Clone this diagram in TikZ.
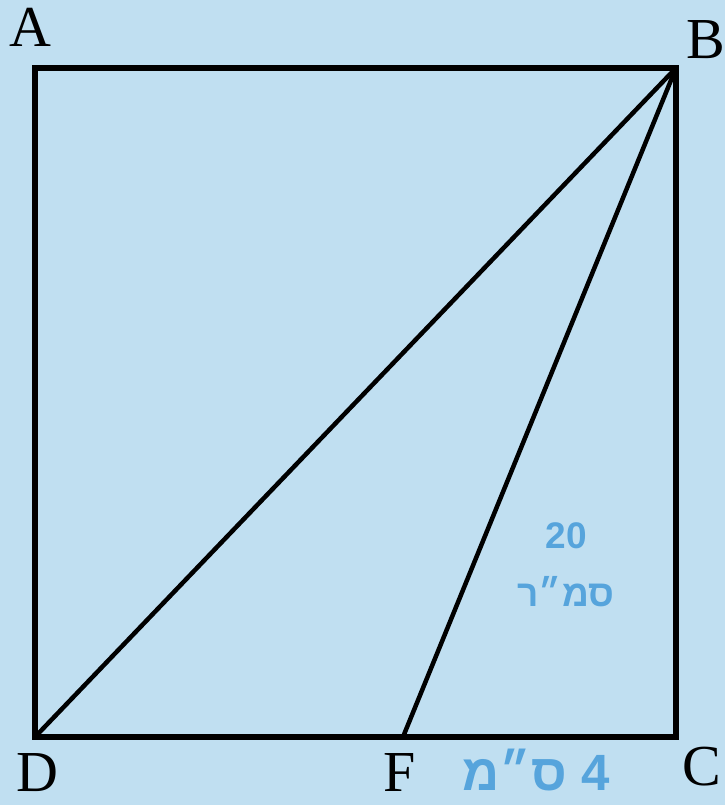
\documentclass[tikz,border=0pt]{standalone}
\usepackage{fontspec}
\setmainfont{Liberation Serif}
\newfontfamily\hebfont[Script=Hebrew]{Liberation Sans}
\TeXXeTstate=1
\usepackage{xcolor}
\usepackage{tikz}
\usetikzlibrary{positioning}
\definecolor{bgblue}{RGB}{192,223,241}
\definecolor{lblblue}{RGB}{86,164,220}
\tikzset{
  side/.style={draw=black, line width=6pt, line join=miter},
  cut/.style={draw=black, line width=4.5pt, line cap=round},
  ptlabel/.style={font=\fontsize{58}{60}\selectfont, inner sep=0pt},
  measure/.style={font=\hebfont\bfseries\fontsize{37}{40}\selectfont,
                  text=lblblue, inner sep=0pt, align=center},
  measurebig/.style={font=\hebfont\bfseries\fontsize{51}{54}\selectfont,
                     text=lblblue, inner sep=0pt},
}

\begin{document}
\begin{tikzpicture}[x=1pt, y=1pt]

% ── background ─────────────────────────────────────────────
\fill[bgblue] (0,0) rectangle (725,805);
\useasboundingbox (0,0) rectangle (725,805);

% ── square ABCD and point F ────────────────────────────────
\coordinate (A) at (35,737);
\coordinate (B) at (676,737);
\coordinate (C) at (676,68);
\coordinate (D) at (35,68);
\coordinate (F) at (403,68);

\draw[side] (A) -- (B) -- (C) -- (D) -- cycle;
\draw[cut] (D) -- (B);
\draw[cut] (F) -- (B);

% ── vertex labels ──────────────────────────────────────────
\node[ptlabel] (lA) at (30,778) {A};
\node[ptlabel] (lB) at (706,765) {B};
\node[ptlabel] (lC) at (702,38) {C};
\node[ptlabel] (lD) at (37,32) {D};
\node[ptlabel] (lF) at (400,32) {F};

% ── measures ───────────────────────────────────────────────
\node[measure] (area) at (566,240)
      {20\\[18pt]\beginR סמ״ר\endR};
\node[measurebig] (fc) at (536,35) {\beginR 4 ס״מ\endR};

\end{tikzpicture}
\end{document}
